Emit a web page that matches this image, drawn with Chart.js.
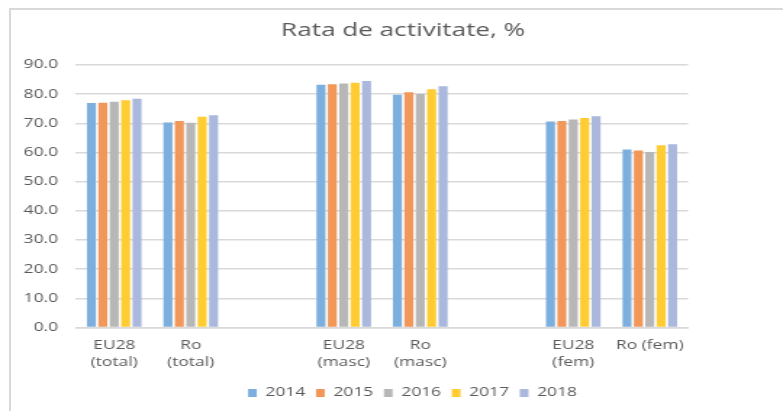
<!DOCTYPE html>
<html><head><meta charset="utf-8">
<script src="https://cdn.jsdelivr.net/npm/chart.js@4.4.0/dist/chart.umd.min.js"></script>
<style>
html,body{margin:0;padding:0;width:783px;height:411px;overflow:hidden;background:#fff;}
#frame{position:absolute;left:9px;top:8px;width:900px;height:500px;border:2px solid #d9d9d9;box-sizing:border-box;}
#wrap{position:absolute;left:0;top:0;width:556px;height:411px;transform:scaleX(1.45);transform-origin:0 0;}
</style></head><body>
<div id="frame"></div>
<div id="wrap"><canvas id="c" width="556" height="411"></canvas></div>
<script>
const categories = [['EU28','(total)'], ['Ro','(total)'], '', ['EU28','(masc)'], ['Ro','(masc)'], '', ['EU28','(fem)'], 'Ro (fem)'];
const years = ['2014', '2015', '2016', '2017', '2018'];
const values2014 = [77.0, 70.3, null, 83.2, 79.8, null, 70.6, 61.0];
const values2015 = [77.1, 70.8, null, 83.4, 80.7, null, 70.8, 60.7];
const values2016 = [77.4, 70.2, null, 83.7, 80.1, null, 71.3, 60.2];
const values2017 = [77.9, 72.3, null, 83.9, 81.7, null, 71.8, 62.5];
const values2018 = [78.4, 72.8, null, 84.5, 82.7, null, 72.4, 62.8];
const seriesColors = ['#7cafdd', '#f1975a', '#b7b7b7', '#ffcd33', '#a9b8dc'];
const titleText = 'Rata de activitate, %';
const yMin = 0, yMax = 90, yStep = 10;

const allValues = [values2014, values2015, values2016, values2017, values2018];
const textColor = '#595959';
const fontFamily = "'Open Sans', sans-serif";

const legendShift = {
  id: 'legendShift',
  afterLayout(chart) {
    const l = chart.legend;
    if (l) { l.left += 6.5; l.right += 6.5; }
  }
};

new Chart(document.getElementById('c'), {
  type: 'bar',
  data: {
    labels: categories,
    datasets: years.map((y, i) => ({
      label: y,
      data: allValues[i],
      backgroundColor: seriesColors[i],
      borderWidth: 0,
      yAxisID: 'y',
      categoryPercentage: 0.745,
      barPercentage: 0.79
    }))
  },
  plugins: [legendShift],
  options: {
    responsive: false,
    animation: false,
    devicePixelRatio: 1,
    layout: { padding: { left: 0, right: 0, top: 0, bottom: 2 } },
    plugins: {
      title: {
        display: true,
        text: titleText,
        color: textColor,
        font: { family: fontFamily, size: 18, weight: 'normal' },
        padding: { top: 20, bottom: 23.4 }
      },
      legend: {
        position: 'bottom',
        labels: {
          color: textColor,
          font: { family: fontFamily, size: 12 },
          boxWidth: 6,
          boxHeight: 8,
          padding: 7.4
        }
      },
      tooltip: { enabled: false }
    },
    scales: {
      x: {
        grid: { display: false, drawTicks: false },
        border: { display: true, color: '#d9d9d9', width: 1.5 },
        ticks: {
          color: textColor,
          font: { family: fontFamily, size: 12, lineHeight: 17 / 12 },
          padding: 9.5,
          maxRotation: 0,
          autoSkip: false
        },
        afterFit(s) { s.height = 52; }
      },
      y: {
        min: yMin,
        max: yMax,
        grid: { color: '#d9d9d9', lineWidth: 1.5, drawTicks: false },
        border: { display: false },
        ticks: {
          stepSize: yStep,
          color: textColor,
          font: { family: fontFamily, size: 12 },
          padding: 12.4,
          callback: v => Number(v).toFixed(1)
        },
        afterFit(s) { s.width = 52.4; }
      },
      yR: {
        position: 'right',
        display: true,
        grid: { display: false, drawTicks: false },
        border: { display: false },
        ticks: { display: false },
        afterFit(s) { s.width = 81.5; }
      }
    }
  }
});
</script>
</body></html>
